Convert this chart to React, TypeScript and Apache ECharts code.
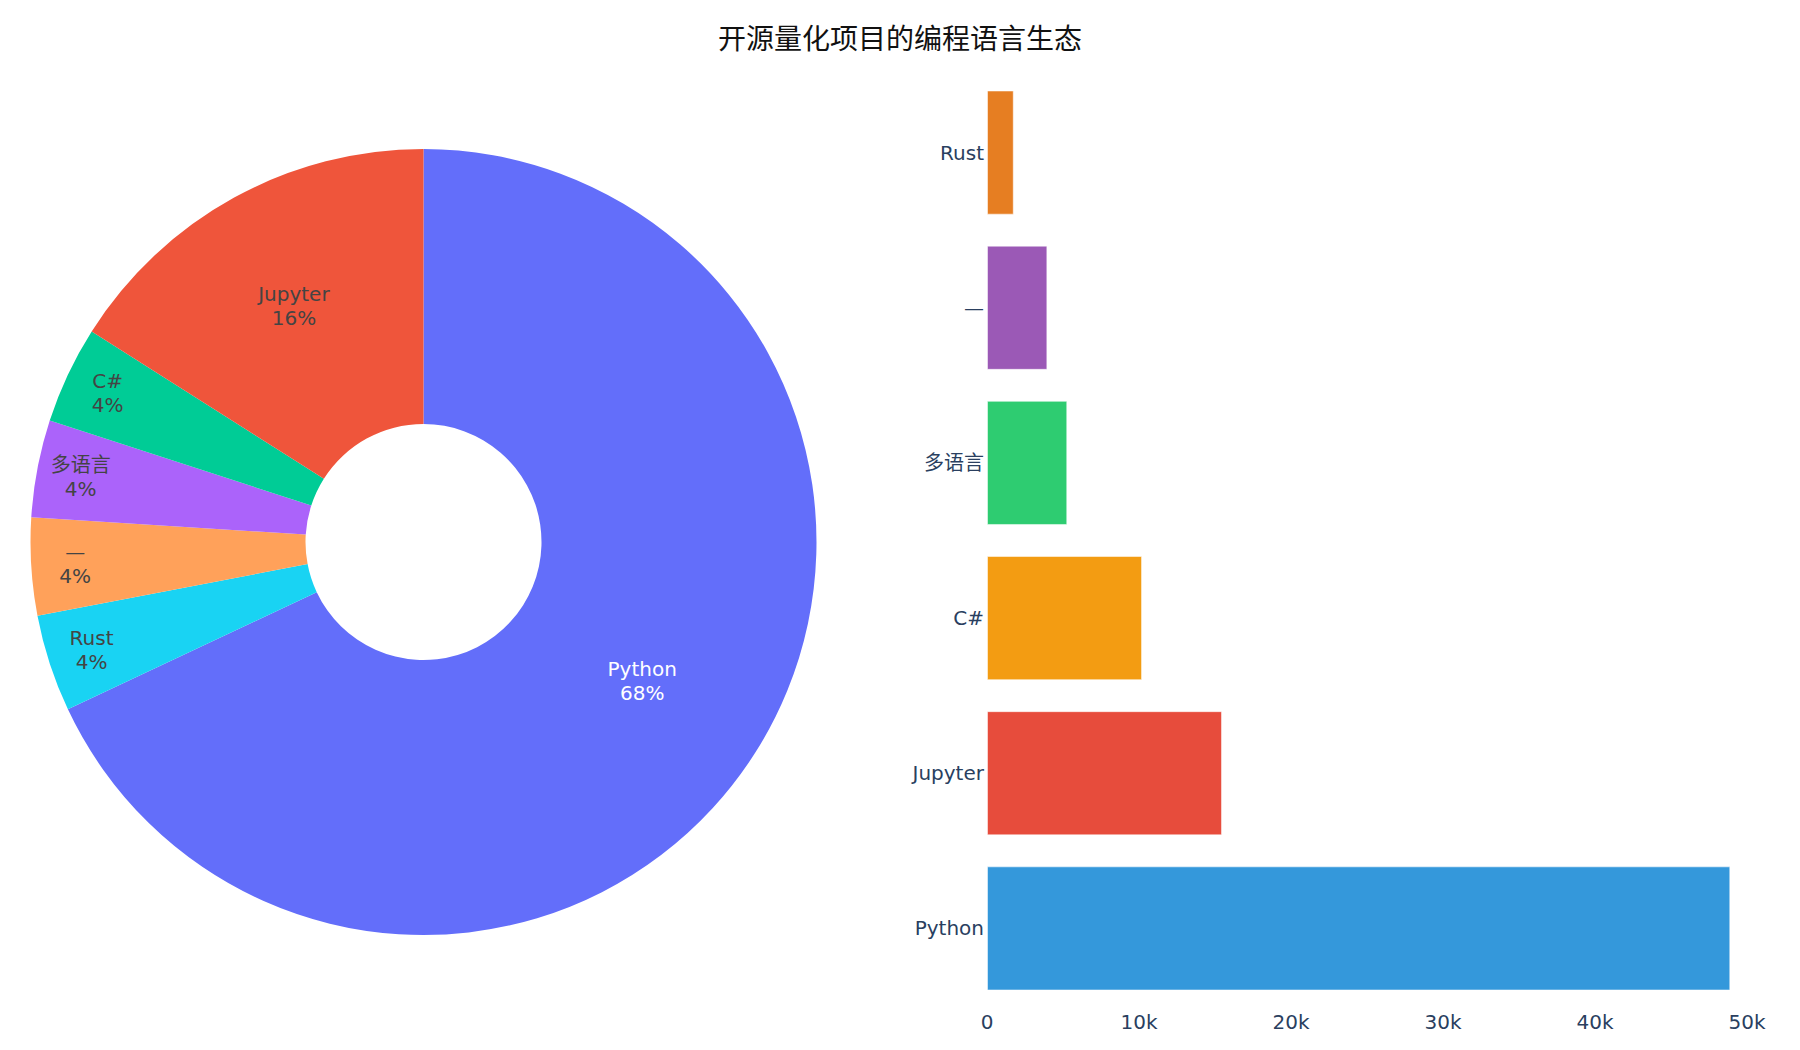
import { useEffect, useRef } from 'react'
import * as echarts from 'echarts'

// 饼图：项目数量（顺时针，自12点起）
const pieNames = ['Python', 'Rust', '—', '多语言', 'C#', 'Jupyter']
const pieCounts = [17, 1, 1, 1, 1, 4]
const pieColors = ['#636efa', '#19d3f3', '#FFA15A', '#ab63fa', '#00cc96', '#EF553B']

// 条形图：自下而上
const barNames = ['Python', 'Jupyter', 'C#', '多语言', '—', 'Rust']
const barValues = [48900, 15460, 10200, 5280, 3970, 1760]
const barColors = ['#3498db', '#e74c3c', '#f39c12', '#2ecc71', '#9b59b6', '#e67e22']

const FONT = "'DejaVu Sans', 'Noto Sans CJK SC', sans-serif"

export default function App() {
  const chartRef = useRef<HTMLDivElement>(null)

  useEffect(() => {
    document.body.style.margin = '0'
    if (!chartRef.current) return
    const chart = echarts.init(chartRef.current, undefined, { renderer: 'svg' })

    const center = [423.5, 542]
    const pieData = pieNames.map((name, i) => ({
      name,
      value: pieCounts[i],
      itemStyle: { color: pieColors[i] },
    }))

    // 透明的标签层，用不同半径放置文字
    const labelLayer = (radius: number[], show: string[]) => ({
      type: 'pie',
      center,
      radius,
      startAngle: 90,
      silent: true,
      emphasis: { disabled: true },
      labelLine: { show: false },
      data: pieNames.map((name, i) => ({
        name,
        value: pieCounts[i],
        itemStyle: { color: 'rgba(0,0,0,0)' },
        label: {
          show: show.includes(name),
          color: name === 'Python' ? '#ffffff' : '#444444',
        },
      })),
      label: {
        position: 'inside',
        fontFamily: FONT,
        fontSize: 20,
        lineHeight: 24,
        formatter: (p: any) => `${p.name}\n${Math.round(p.percent)}%`,
      },
    })

    const option: any = {
      animation: false,
      backgroundColor: '#ffffff',
      title: {
        text: '开源量化项目的编程语言生态',
        left: 'center',
        top: 20,
        textStyle: { fontFamily: FONT, fontSize: 28, fontWeight: 'normal', color: '#111111' },
      },
      grid: {
        left: 987,
        right: 53,
        top: 75,
        bottom: 44,
        outerBoundsMode: 'none',
      },
      xAxis: {
        type: 'value',
        min: 0,
        max: 50000,
        interval: 10000,
        axisLine: { show: false },
        axisTick: { show: false },
        splitLine: { show: false },
        axisLabel: {
          fontFamily: FONT,
          fontSize: 20,
          color: '#2a3f5f',
          margin: 6,
          formatter: (v: number) => (v === 0 ? '0' : `${v / 1000}k`),
        },
      },
      yAxis: {
        type: 'category',
        data: barNames,
        axisLine: { show: false },
        axisTick: { show: false },
        splitLine: { show: false },
        axisLabel: { fontFamily: FONT, fontSize: 20, color: '#2a3f5f', margin: 3 },
      },
      series: [
        {
          type: 'pie',
          center,
          radius: [118, 393],
          startAngle: 90,
          silent: true,
          label: { show: false },
          labelLine: { show: false },
          data: pieData,
        },
        labelLayer([118, 394], ['Python']),
        labelLayer([139, 393], ['Jupyter']),
        labelLayer([299, 393], ['Rust', '—', '多语言', 'C#']),
        {
          type: 'bar',
          barCategoryGap: '20%',
          data: barValues.map((v, i) => ({
            value: v,
            itemStyle: { color: barColors[i], borderColor: 'rgba(255,255,255,0.5)', borderWidth: 1 },
          })),
        },
      ],
    }

    chart.setOption(option)
    return () => {
      chart.dispose()
    }
  }, [])

  return <div ref={chartRef} style={{ width: '1800px', height: '1050px' }} />
}
